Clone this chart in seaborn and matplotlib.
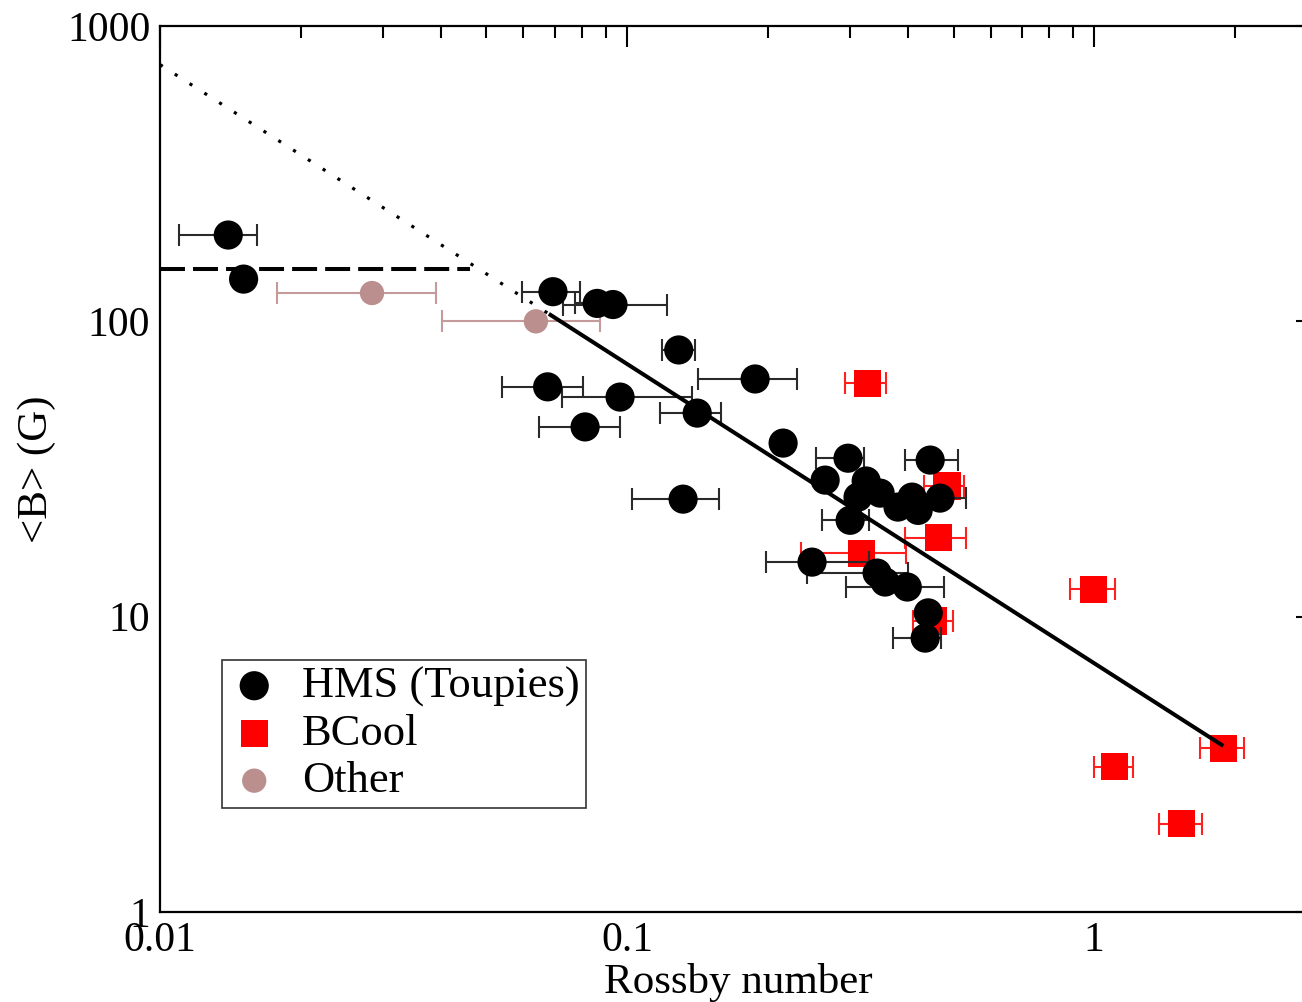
import numpy as np
import pandas as pd
import matplotlib
matplotlib.use("Agg")
import matplotlib.pyplot as plt
import seaborn as sns
from matplotlib.ticker import FixedLocator, FixedFormatter, LogLocator, NullFormatter

# HMS (Toupies) stars: Rossby number, mean field <B> (G), and Rossby error-bar ends
hms_ro = [0.0140, 0.0151, 0.0694, 0.0863, 0.0933, 0.129, 0.0676, 0.0966, 0.0813,
          0.1413, 0.188, 0.1318, 0.2158, 0.2655, 0.2972, 0.3250, 0.3482, 0.3122,
          0.3003, 0.3802, 0.4075, 0.4199, 0.4677, 0.4456, 0.2489, 0.3430, 0.3568,
          0.398, 0.4413, 0.4347]
hms_b = [196, 139, 126, 115, 114, 80, 60, 55.4, 43.9,
         48.9, 63.8, 25.0, 38.7, 29.0, 34.4, 28.8, 26.2, 25.4,
         21.2, 23.5, 25.4, 22.9, 25.2, 33.9, 15.3, 14.05, 13.1,
         12.6, 10.3, 8.46]
hms_ro_min = [0.0110, 0.0151, 0.0596, 0.0774, 0.0730, 0.1187, 0.0540, 0.0725, 0.0649,
              0.1174, 0.142, 0.1026, 0.2158, 0.2655, 0.2536, 0.3250, 0.3482, 0.3122,
              0.2617, 0.3802, 0.4075, 0.4199, 0.4200, 0.3936, 0.1985, 0.2430, 0.3568,
              0.294, 0.4413, 0.3714]
hms_ro_max = [0.0161, 0.0151, 0.0792, 0.0966, 0.1219, 0.140, 0.0804, 0.138, 0.0966,
              0.1585, 0.231, 0.1572, 0.2158, 0.2655, 0.3215, 0.3250, 0.3482, 0.3122,
              0.330, 0.3802, 0.4075, 0.4199, 0.5325, 0.5113, 0.3295, 0.400, 0.3568,
              0.478, 0.4413, 0.470]

# BCool stars
bcool_ro = [0.3266, 0.4842, 0.4634, 0.3171, 0.4522, 0.995, 1.889, 1.104, 1.536]
bcool_b = [61.8, 27.7, 18.5, 16.4, 9.67, 12.4, 3.59, 3.10, 1.99]
bcool_ro_min = [0.2921, 0.4328, 0.3936, 0.2359, 0.409, 0.8887, 1.687, 0.9985, 1.38]
bcool_ro_max = [0.358, 0.5274, 0.5325, 0.396, 0.499, 1.11, 2.09, 1.21, 1.70]

# Other stars
other_ro = [0.02844, 0.0638]
other_b = [124.7, 100.0]
other_ro_min = [0.01778, 0.0401]
other_ro_max = [0.0390, 0.0876]

# Power-law fit (solid over the fitted range, dotted extrapolation) and saturation level
fit_ro_solid = [0.068, 1.89]
fit_b_solid = [106.0, 3.65]
fit_ro_dotted = [0.01, 0.068]
fit_b_dotted = [740.0, 106.0]
sat_ro = [0.01, 0.046]
sat_b = [150.0, 150.0]

groups = ["HMS (Toupies)", "BCool", "Other"]
df = pd.concat([
    pd.DataFrame({"ro": hms_ro, "b": hms_b, "lo": hms_ro_min, "hi": hms_ro_max, "group": groups[0]}),
    pd.DataFrame({"ro": bcool_ro, "b": bcool_b, "lo": bcool_ro_min, "hi": bcool_ro_max, "group": groups[1]}),
    pd.DataFrame({"ro": other_ro, "b": other_b, "lo": other_ro_min, "hi": other_ro_max, "group": groups[2]}),
], ignore_index=True)

sns.set_theme(style="white")
plt.rcParams["font.family"] = ["Liberation Serif", "DejaVu Serif"]
plt.rcParams["text.color"] = "black"
plt.rcParams["axes.labelcolor"] = "black"

W, H = 1302, 1002
fig = plt.figure(figsize=(W / 100, H / 100), dpi=100)
fig.patch.set_facecolor("white")
ax = fig.add_axes([160 / W, (H - 912) / H, 1157 / W, 886 / H])
ax.set_facecolor("white")
ax.set_xscale("log")
ax.set_yscale("log")

styles = {
    "HMS (Toupies)": dict(color="black", ecolor="#2a2a2a", marker="o", s=21.0 ** 2, z=4),
    "BCool": dict(color="#ff0000", ecolor="#ff2020", marker="s", s=19.5 ** 2, z=3),
    "Other": dict(color="#bc8f8f", ecolor="#c49a9a", marker="o", s=17.5 ** 2, z=2),
}

for g in ["Other", "BCool", "HMS (Toupies)"]:
    st = styles[g]
    sub = df[df["group"] == g]
    xerr = np.vstack([sub["ro"] - sub["lo"], sub["hi"] - sub["ro"]])
    ax.errorbar(sub["ro"], sub["b"], xerr=xerr, fmt="none", ecolor=st["ecolor"],
                elinewidth=1.5, capsize=8, capthick=1.5, zorder=st["z"] - 0.5)
    sns.scatterplot(x=sub["ro"], y=sub["b"], ax=ax, color=st["color"], marker=st["marker"],
                    s=st["s"], linewidth=0, edgecolor="none", zorder=st["z"], label=g, legend=False)

ax.plot(fit_ro_solid, fit_b_solid, color="black", lw=2.9, solid_capstyle="butt", zorder=6)
ax.plot(fit_ro_dotted, fit_b_dotted, color="black", lw=2.3, linestyle=(0, (1, 4.5)),
        dash_capstyle="butt", zorder=6)
ax.plot(sat_ro, sat_b, color="black", lw=2.9, linestyle=(0, (6.2, 2.0)),
        dash_capstyle="butt", zorder=6)

ax.set_xlim(0.01, 3)
ax.set_ylim(1, 1000)

ax.xaxis.set_major_locator(FixedLocator([0.01, 0.1, 1]))
ax.xaxis.set_major_formatter(FixedFormatter(["0.01", "0.1", "1"]))
ax.yaxis.set_major_locator(FixedLocator([1, 10, 100, 1000]))
ax.yaxis.set_major_formatter(FixedFormatter(["1", "10", "100", "1000"]))
for axis in (ax.xaxis, ax.yaxis):
    axis.set_minor_locator(LogLocator(base=10, subs=np.arange(2, 10), numticks=20))
    axis.set_minor_formatter(NullFormatter())

ax.tick_params(which="both", direction="in", top=True, right=True, color="black",
               width=1.5, labelsize=30, labelcolor="black")
ax.tick_params(which="major", length=15)
ax.tick_params(which="minor", length=8.5)
ax.tick_params(axis="y", which="major", pad=7)
ax.tick_params(axis="x", which="major", pad=7)
for sp in ax.spines.values():
    sp.set_color("black")
    sp.set_linewidth(1.6)
    sp.set_visible(True)

ax.set_xlabel("Rossby number", fontsize=31, color="black", labelpad=2)
ax.set_ylabel("<B> (G)", fontsize=31, color="black", labelpad=8)

h, l = ax.get_legend_handles_labels()
order = [l.index(g) for g in groups]
leg = ax.legend([h[i] for i in order], [l[i] for i in order], loc="lower left",
                bbox_to_anchor=((222 - 160) / 1157, (912 - 808) / 886), borderaxespad=0,
                fontsize=32, frameon=True, fancybox=False, edgecolor="black",
                borderpad=0.15, labelspacing=0.16, handlelength=1.15, handletextpad=0.5,
                markerscale=1.0, labelcolor="black")
leg.get_frame().set_linewidth(1.2)
leg.set_zorder(10)

fig.savefig("out.png", dpi=100, facecolor="white")
